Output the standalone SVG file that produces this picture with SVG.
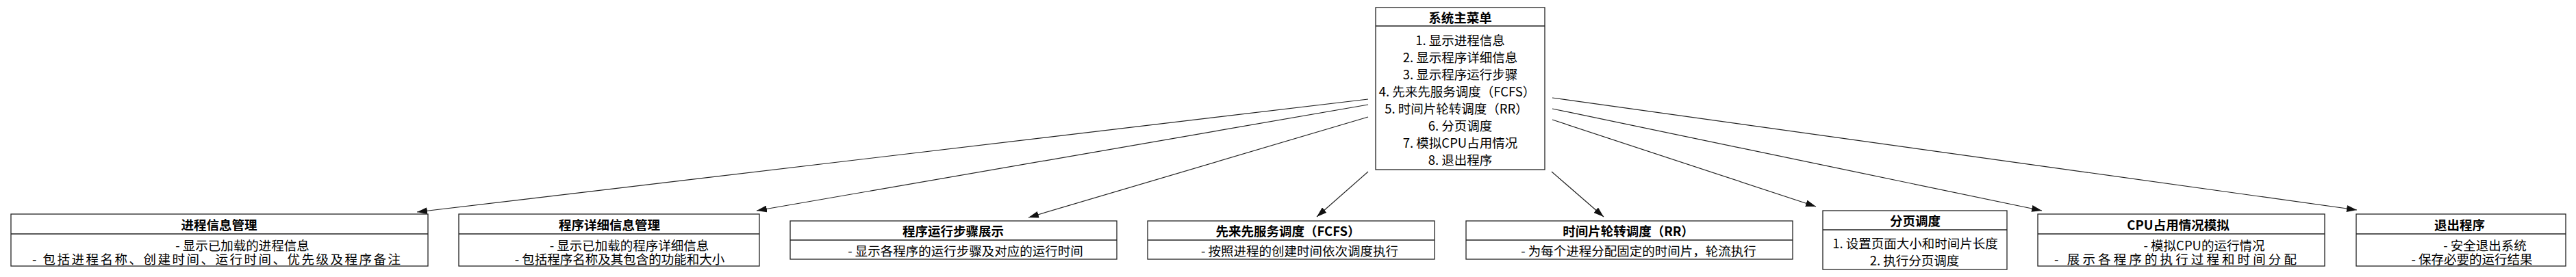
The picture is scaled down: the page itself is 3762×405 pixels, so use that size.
<svg xmlns="http://www.w3.org/2000/svg" width="3762" height="405" viewBox="0 0 3762 405">
<style>
.box{fill:#ffffff;stroke:#222222;stroke-width:1.3}
.div{stroke:#222222;stroke-width:1.3}
.edge{fill:none;stroke:#222222;stroke-width:1.2}
text{font-family:"Noto Sans CJK SC","Noto Sans",sans-serif;font-size:18.5px;fill:#000000;text-anchor:middle;dominant-baseline:central}
.h{font-weight:bold}
</style>
<defs>
<marker id="arr" markerUnits="userSpaceOnUse" markerWidth="15" markerHeight="10" refX="15" refY="5" orient="auto">
<path d="M0,0 L15,5 L0,10 z" fill="#111111"/>
</marker>
</defs>
<rect width="3762" height="405" fill="#ffffff"/>
<g id="connectors">
<line class="edge" x1="1998" y1="145" x2="609" y2="310" marker-end="url(#arr)"/>
<line class="edge" x1="1998" y1="153" x2="1105" y2="308" marker-end="url(#arr)"/>
<line class="edge" x1="1998" y1="171" x2="1502" y2="318" marker-end="url(#arr)"/>
<line class="edge" x1="1998" y1="251" x2="1923" y2="317" marker-end="url(#arr)"/>
<line class="edge" x1="2266" y1="251" x2="2342" y2="317" marker-end="url(#arr)"/>
<line class="edge" x1="2267" y1="175" x2="2652" y2="302" marker-end="url(#arr)"/>
<line class="edge" x1="2267" y1="159" x2="2982" y2="308" marker-end="url(#arr)"/>
<line class="edge" x1="2267" y1="143" x2="3442" y2="307" marker-end="url(#arr)"/>
</g>
<g id="main-menu">
<rect class="box" x="2009" y="11" width="247" height="237"/>
<line class="div" x1="2009" y1="38" x2="2256" y2="38"/>
<text class="h" x="2132.5" y="25">系统主菜单</text>
<text x="2132.5" y="57.5">1. 显示进程信息</text>
<text x="2132.5" y="82.5">2. 显示程序详细信息</text>
<text x="2132.5" y="107.5">3. 显示程序运行步骤</text>
<text x="2128" y="132.5">4. 先来先服务调度（FCFS）</text>
<text x="2127" y="157.5">5. 时间片轮转调度（RR）</text>
<text x="2132.5" y="182.5">6. 分页调度</text>
<text x="2132.5" y="207.5">7. 模拟CPU占用情况</text>
<text x="2132.5" y="232.5">8. 退出程序</text>
</g>
<g id="process-info">
<rect class="box" x="16" y="313" width="609" height="76"/>
<line class="div" x1="16" y1="342" x2="625" y2="342"/>
<text class="h" x="320" y="327.5">进程信息管理</text>
<text x="354" y="358">- 显示已加载的进程信息</text>
<text x="316" y="378" textLength="538" lengthAdjust="spacing">- 包括进程名称、创建时间、运行时间、优先级及程序备注</text>
</g>
<g id="program-detail">
<rect class="box" x="670" y="313" width="439" height="76"/>
<line class="div" x1="670" y1="342" x2="1109" y2="342"/>
<text class="h" x="890" y="327.5">程序详细信息管理</text>
<text x="919" y="358">- 显示已加载的程序详细信息</text>
<text x="905" y="378">- 包括程序名称及其包含的功能和大小</text>
</g>
<g id="program-steps">
<rect class="box" x="1154" y="323" width="477" height="56"/>
<line class="div" x1="1154" y1="351" x2="1631" y2="351"/>
<text class="h" x="1392" y="337">程序运行步骤展示</text>
<text x="1410" y="366">- 显示各程序的运行步骤及对应的运行时间</text>
</g>
<g id="fcfs">
<rect class="box" x="1676" y="323" width="419" height="56"/>
<line class="div" x1="1676" y1="351" x2="2095" y2="351"/>
<text class="h" x="1881" y="337">先来先服务调度（FCFS）</text>
<text x="1898" y="366">- 按照进程的创建时间依次调度执行</text>
</g>
<g id="rr">
<rect class="box" x="2141" y="323" width="477" height="56"/>
<line class="div" x1="2141" y1="351" x2="2618" y2="351"/>
<text class="h" x="2378" y="337">时间片轮转调度（RR）</text>
<text x="2393" y="366">- 为每个进程分配固定的时间片，轮流执行</text>
</g>
<g id="paging">
<rect class="box" x="2662" y="308" width="269" height="86"/>
<line class="div" x1="2662" y1="336" x2="2931" y2="336"/>
<text class="h" x="2797" y="322">分页调度</text>
<text x="2797" y="355">1. 设置页面大小和时间片长度</text>
<text x="2796" y="380">2. 执行分页调度</text>
</g>
<g id="cpu">
<rect class="box" x="2976" y="313" width="419" height="76"/>
<line class="div" x1="2976" y1="342" x2="3395" y2="342"/>
<text class="h" x="3181" y="327.5">CPU占用情况模拟</text>
<text x="3219" y="358">- 模拟CPU的运行情况</text>
<text x="3177" y="378" textLength="354" lengthAdjust="spacing">- 展示各程序的执行过程和时间分配</text>
</g>
<g id="exit">
<rect class="box" x="3441" y="313" width="306" height="76"/>
<line class="div" x1="3441" y1="342" x2="3747" y2="342"/>
<text class="h" x="3592" y="327.5">退出程序</text>
<text x="3629" y="358">- 安全退出系统</text>
<text x="3610" y="378">- 保存必要的运行结果</text>
</g>
</svg>
